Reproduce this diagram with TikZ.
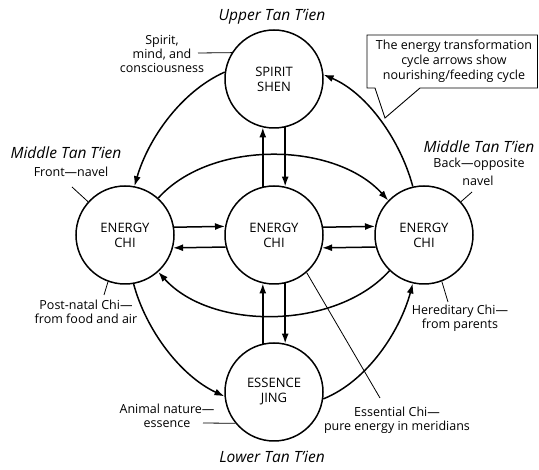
\documentclass[tikz,border=0pt]{standalone}
\usepackage{fontspec}
\setmainfont{Open Sans}
\usetikzlibrary{arrows.meta,calc}
\begin{document}
\begin{tikzpicture}[x=1pt,y=1pt,
  chak/.style={circle,draw,line width=1.5pt,minimum size=98pt,inner sep=0pt,align=center,font=\fontsize{13}{15}\selectfont},
  flow/.style={line width=1.5pt,-{Latex[length=10pt,width=7pt]}},
  lead/.style={line width=0.8pt},
  lbl/.style={align=center,font=\fontsize{12.5}{14}\selectfont,inner sep=0pt},
  tien/.style={font=\fontsize{15.5}{17}\selectfont\itshape,inner sep=0pt}]
\useasboundingbox (0,0) rectangle (539,-470);
% circles
\node[chak] (spirit) at (274,-79) {SPIRIT\\SHEN};
\node[chak] (center) at (274,-235) {ENERGY\\CHI};
\node[chak] (left) at (125,-235) {ENERGY\\CHI};
\node[chak] (right) at (424,-235) {ENERGY\\CHI};
\node[chak] (essence) at (274,-392) {ESSENCE\\JING};
% vertical arrows
\draw[flow] (center.103) -- (spirit.257);
\draw[flow] (spirit.283) -- (center.77);
\draw[flow] (essence.103) -- (center.257);
\draw[flow] (center.283) -- (essence.77);
% horizontal arrows
\draw[flow] (left.9.4) -- (center.170.6);
\draw[flow] (center.194.2) -- (left.345.8);
\draw[flow] (center.9.4) -- (right.170.6);
\draw[flow] (right.194.2) -- (center.345.8);
% inner arcs
\draw[flow] (left.48) to[out=48,in=132,looseness=0.88] (right.136);
\draw[flow] (right.226) to[out=228,in=312,looseness=0.88] (left.312);
% outer cycle
\draw[flow] (spirit.172) to[out=204,in=74,looseness=0.85] (left.79);
\draw[flow] (left.280) to[out=285,in=155,looseness=0.85] (essence.185);
\draw[flow] (essence.352) to[out=22,in=255,looseness=0.85] (right.257);
\draw[flow] (right.103) to[out=105,in=337,looseness=0.85] (spirit.5);
% labels
\node[tien] (upper) at (272,-17) {Upper Tan T’ien};
\node[tien] (lower) at (272,-457) {Lower Tan T’ien};
\node[tien] (midl) at (66,-153) {Middle Tan T’ien};
\node[lbl] (front) at (71,-172) {Front—navel};
\node[tien] (midr) at (479,-147) {Middle Tan T’ien};
\node[lbl] (back) at (479,-164) {Back—opposite};
\node[lbl] (navel) at (478,-181) {navel};
\node[lbl] (smc) at (162,-54) {Spirit,\\mind, and\\consciousness};
\node[lbl] (post) at (86,-311.5) {Post-natal Chi—\\from food and air};
\node[lbl] (here) at (460,-318.5) {Hereditary Chi—\\from parents};
\node[lbl] (anim) at (167,-416) {Animal nature—\\essence};
\node[lbl] (essl) at (397,-420.5) {Essential Chi—\\pure energy in meridians};
% leaders
\coordinate (l1) at (198,-53);
\draw[lead] (l1) -- (spirit.148);
\coordinate (l2) at (72,-187);
\draw[lead] (l2) -- (left.138);
\coordinate (l3) at (104,-295);
\draw[lead] (left.250) -- (l3);
\coordinate (l4) at (472,-192);
\draw[lead] (l4) -- (right.42);
\coordinate (l5) at (448,-302);
\draw[lead] (right.291) -- (l5);
\coordinate (l6) at (203,-423);
\draw[lead] (l6) -- (essence.219);
\coordinate (l7) at (380,-398);
\draw[lead] (center.311) -- (l7);
% callout
\node[lbl,font=\fontsize{12.5}{15}\selectfont] (note) at (454,-61.5) {The energy transformation\\cycle arrows show\\nourishing/feeding cycle};
\coordinate (tip) at (385,-118);
\draw[line width=0.9pt,line join=miter] (367,-35) -- (537.5,-35) -- (537.5,-88) -- (420,-88) -- (tip) -- (375,-88) -- (367,-88) -- cycle;
\end{tikzpicture}
\end{document}
